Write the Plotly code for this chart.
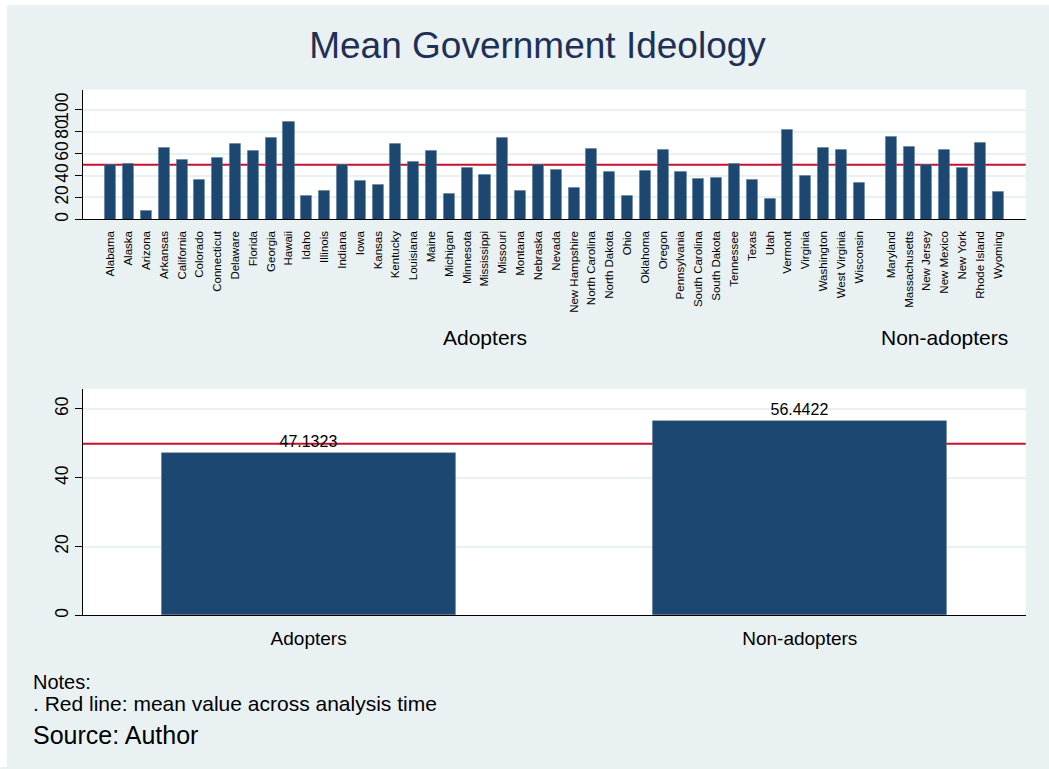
import plotly.graph_objects as go

# state-level mean ideology
adopters = [
    "Alabama", "Alaska", "Arizona", "Arkansas", "California", "Colorado",
    "Connecticut", "Delaware", "Florida", "Georgia", "Hawaii", "Idaho",
    "Illinois", "Indiana", "Iowa", "Kansas", "Kentucky", "Louisiana", "Maine",
    "Michigan", "Minnesota", "Mississippi", "Missouri", "Montana", "Nebraska",
    "Nevada", "New Hampshire", "North Carolina", "North Dakota", "Ohio",
    "Oklahoma", "Oregon", "Pennsylvania", "South Carolina", "South Dakota",
    "Tennessee", "Texas", "Utah", "Vermont", "Virginia", "Washington",
    "West Virginia", "Wisconsin",
]
adopter_values = [
    49.4, 50.3, 8.2, 65.5, 54.8, 35.8, 56.1, 69.4, 62.7, 74.2, 89.1, 21.2,
    26.4, 49.7, 35.2, 31.5, 69.1, 52.7, 63.0, 23.3, 46.7, 40.9, 74.5, 25.8,
    49.4, 45.5, 28.8, 64.2, 43.9, 21.8, 44.5, 63.6, 43.3, 37.0, 38.2, 50.3,
    36.4, 19.1, 82.1, 39.7, 65.5, 63.6, 33.3,
]
non_adopters = [
    "Maryland", "Massachusetts", "New Jersey", "New Mexico", "New York",
    "Rhode Island", "Wyoming",
]
non_adopter_values = [75.2, 66.1, 49.7, 63.6, 47.3, 70.0, 25.2]

groups = ["Adopters", "Non-adopters"]
group_means = [47.1323, 56.4422]

mean_line = 49.9

BG = "#eaf1f3"
BAR = "#1c4770"
RED = "#c8102e"
FONT = "Liberation Sans, Arial, sans-serif"
W, H = 1049, 769

# x positions with a gap between the two groups
gap = 0.8
pos_a = [i for i in range(len(adopters))]
pos_n = [len(adopters) + gap + j for j in range(len(non_adopters))]

fig = go.Figure()

fig.add_trace(go.Bar(
    x=pos_a + pos_n,
    y=adopter_values + non_adopter_values,
    width=0.62,
    marker=dict(color=BAR, line=dict(color="#5a7a96", width=0.5)),
    xaxis="x", yaxis="y",
    showlegend=False,
))

fig.add_trace(go.Bar(
    x=groups,
    y=group_means,
    width=0.6,
    marker=dict(color=BAR, line=dict(color="#5a7a96", width=0.5)),
    texttemplate="%{y:.4f}",
    textposition="outside",
    textfont=dict(size=16, color="black"),
    cliponaxis=False,
    xaxis="x2", yaxis="y2",
    showlegend=False,
))

xdom = [82.7 / W, 1025.7 / W]

fig.update_layout(
    width=W, height=H,
    margin=dict(l=0, r=0, t=0, b=0),
    paper_bgcolor=BG,
    plot_bgcolor="white",
    font=dict(family=FONT, color="black"),
    bargap=0,
    title=dict(
        text="Mean Government Ideology",
        x=537.5 / W, y=1 - 45 / H, xanchor="center", yanchor="middle",
        font=dict(size=37, color="#1f3057", family=FONT),
    ),
    xaxis=dict(
        domain=xdom, anchor="y",
        range=[-1.56, pos_n[-1] + 1.56],
        tickvals=pos_a + pos_n, ticktext=adopters + non_adopters,
        tickangle=-90, tickfont=dict(size=11.5),
        showgrid=False, zeroline=False,
        showline=True, linecolor="black", linewidth=1,
        ticks="", ticklabelstandoff=6,
    ),
    yaxis=dict(
        domain=[1 - 220 / H, 1 - 90 / H], anchor="x",
        range=[0, 118.2],
        tickvals=[0, 20, 40, 60, 80, 100],
        tickangle=-90, tickfont=dict(size=17.5),
        showgrid=True, gridcolor=BG, gridwidth=1.5,
        zeroline=False,
        showline=True, linecolor="black", linewidth=1,
        ticks="outside", ticklen=7, tickcolor="black",
    ),
    xaxis2=dict(
        domain=xdom, anchor="y2",
        range=[-0.46, 1.46],
        tickfont=dict(size=19),
        showgrid=False, zeroline=False,
        showline=True, linecolor="black", linewidth=1,
        ticks="", ticklabelstandoff=6,
    ),
    yaxis2=dict(
        domain=[1 - 617 / H, 1 - 390 / H], anchor="x2",
        range=[0, 65.8],
        tickvals=[0, 20, 40, 60],
        tickangle=-90, tickfont=dict(size=17.5),
        showgrid=True, gridcolor=BG, gridwidth=1.5,
        zeroline=False,
        showline=True, linecolor="black", linewidth=1,
        ticks="outside", ticklen=7, tickcolor="black",
    ),
)

# mean reference lines, drawn behind the bars
for xr, yr in (("x domain", "y"), ("x2 domain", "y2")):
    fig.add_shape(type="line", xref=xr, yref=yr, x0=0, x1=1,
                  y0=mean_line, y1=mean_line,
                  line=dict(color=RED, width=2), layer="below")

# group labels under the state names
fig.add_annotation(x=(pos_a[0] + pos_a[-1]) / 2, y=1 - 338 / H, xref="x", yref="paper",
                   text=groups[0], showarrow=False, font=dict(size=21))
fig.add_annotation(x=(pos_n[0] + pos_n[-1]) / 2, y=1 - 338 / H, xref="x", yref="paper",
                   text=groups[1], showarrow=False, font=dict(size=21))

# notes
fig.add_annotation(x=31 / W, y=1 - 684 / H, xref="paper", yref="paper",
                   xanchor="left", yanchor="middle", showarrow=False,
                   text="Notes:", font=dict(size=20))
fig.add_annotation(x=31 / W, y=1 - 705 / H, xref="paper", yref="paper",
                   xanchor="left", yanchor="middle", showarrow=False,
                   text=". Red line: mean value across analysis time", font=dict(size=21))
fig.add_annotation(x=31 / W, y=1 - 737 / H, xref="paper", yref="paper",
                   xanchor="left", yanchor="middle", showarrow=False,
                   text="Source: Author", font=dict(size=25))

# thin white border on top / left edge
fig.add_shape(type="rect", xref="paper", yref="paper", x0=0, x1=7 / W, y0=0, y1=1,
              fillcolor="white", line=dict(width=0))
fig.add_shape(type="rect", xref="paper", yref="paper", x0=0, x1=1, y0=1 - 5 / H, y1=1,
              fillcolor="white", line=dict(width=0))

fig.write_html(
    "out.html",
    config={"displayModeBar": False},
    post_script="document.body.style.margin='0';"
                "document.body.style.overflow='hidden';"
                "document.documentElement.style.overflow='hidden';"
                "document.documentElement.style.background='" + BG + "';"
                "document.body.style.background='" + BG + "';",
)
